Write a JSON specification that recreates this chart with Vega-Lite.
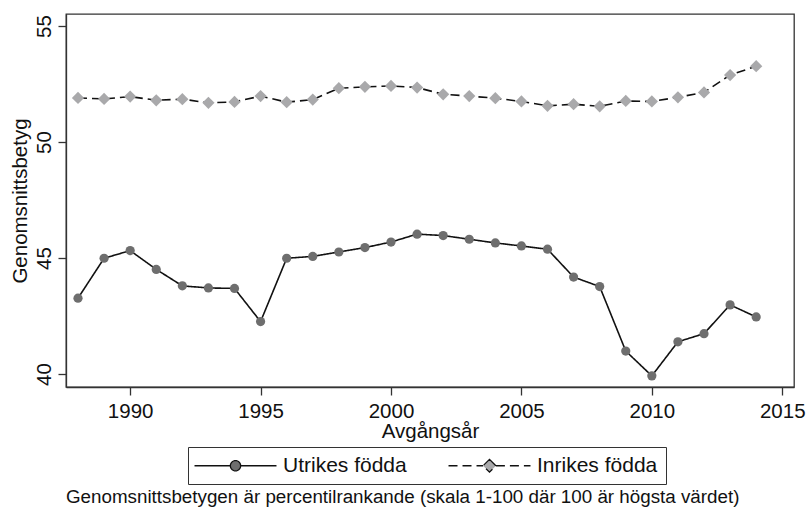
{
  "$schema": "https://vega.github.io/schema/vega-lite/v6.json",
  "autosize": {"type": "none"},
  "padding": {"left": 66, "top": 14, "right": 14, "bottom": 120},
  "width": 728,
  "height": 373,
  "background": "white",
  "config": {
    "font": "Liberation Sans",
    "view": {"stroke": "#333333", "strokeWidth": 1.3},
    "axis": {
      "grid": false,
      "domainColor": "#333333",
      "domainWidth": 1.3,
      "tickColor": "#333333",
      "tickWidth": 1.3,
      "tickSize": 8,
      "labelFont": "Liberation Sans",
      "labelFontSize": 20.5,
      "labelColor": "#111111",
      "titleFont": "Liberation Sans",
      "titleFontSize": 20.5,
      "titleFontWeight": "normal",
      "titleColor": "#111111"
    }
  },
  "title": {
    "text": "Genomsnittsbetygen är percentilrankande (skala 1-100 där 100 är högsta värdet)",
    "orient": "bottom",
    "anchor": "start",
    "frame": "group",
    "offset": 3,
    "font": "Liberation Sans",
    "fontSize": 18.8,
    "fontWeight": "normal",
    "color": "#111111"
  },
  "data": {
    "values": [
      {"year": 1988, "serie": "Utrikes födda", "value": 43.27},
      {"year": 1989, "serie": "Utrikes födda", "value": 44.99},
      {"year": 1990, "serie": "Utrikes födda", "value": 45.32},
      {"year": 1991, "serie": "Utrikes födda", "value": 44.51},
      {"year": 1992, "serie": "Utrikes födda", "value": 43.80},
      {"year": 1993, "serie": "Utrikes födda", "value": 43.71},
      {"year": 1994, "serie": "Utrikes födda", "value": 43.69},
      {"year": 1995, "serie": "Utrikes födda", "value": 42.26},
      {"year": 1996, "serie": "Utrikes födda", "value": 44.99},
      {"year": 1997, "serie": "Utrikes födda", "value": 45.07},
      {"year": 1998, "serie": "Utrikes födda", "value": 45.26},
      {"year": 1999, "serie": "Utrikes födda", "value": 45.45},
      {"year": 2000, "serie": "Utrikes födda", "value": 45.69},
      {"year": 2001, "serie": "Utrikes födda", "value": 46.03},
      {"year": 2002, "serie": "Utrikes födda", "value": 45.97},
      {"year": 2003, "serie": "Utrikes födda", "value": 45.81},
      {"year": 2004, "serie": "Utrikes födda", "value": 45.65},
      {"year": 2005, "serie": "Utrikes födda", "value": 45.52},
      {"year": 2006, "serie": "Utrikes födda", "value": 45.38},
      {"year": 2007, "serie": "Utrikes födda", "value": 44.18},
      {"year": 2008, "serie": "Utrikes födda", "value": 43.77},
      {"year": 2009, "serie": "Utrikes födda", "value": 40.99},
      {"year": 2010, "serie": "Utrikes födda", "value": 39.92},
      {"year": 2011, "serie": "Utrikes födda", "value": 41.39},
      {"year": 2012, "serie": "Utrikes födda", "value": 41.74},
      {"year": 2013, "serie": "Utrikes födda", "value": 42.98},
      {"year": 2014, "serie": "Utrikes födda", "value": 42.46},
      {"year": 1988, "serie": "Inrikes födda", "value": 51.90},
      {"year": 1989, "serie": "Inrikes födda", "value": 51.86},
      {"year": 1990, "serie": "Inrikes födda", "value": 51.96},
      {"year": 1991, "serie": "Inrikes födda", "value": 51.80},
      {"year": 1992, "serie": "Inrikes födda", "value": 51.85},
      {"year": 1993, "serie": "Inrikes födda", "value": 51.69},
      {"year": 1994, "serie": "Inrikes födda", "value": 51.73},
      {"year": 1995, "serie": "Inrikes födda", "value": 51.98},
      {"year": 1996, "serie": "Inrikes födda", "value": 51.72},
      {"year": 1997, "serie": "Inrikes födda", "value": 51.83},
      {"year": 1998, "serie": "Inrikes födda", "value": 52.32},
      {"year": 1999, "serie": "Inrikes födda", "value": 52.38},
      {"year": 2000, "serie": "Inrikes födda", "value": 52.42},
      {"year": 2001, "serie": "Inrikes födda", "value": 52.35},
      {"year": 2002, "serie": "Inrikes födda", "value": 52.06},
      {"year": 2003, "serie": "Inrikes födda", "value": 51.98},
      {"year": 2004, "serie": "Inrikes födda", "value": 51.89},
      {"year": 2005, "serie": "Inrikes födda", "value": 51.75},
      {"year": 2006, "serie": "Inrikes födda", "value": 51.56},
      {"year": 2007, "serie": "Inrikes födda", "value": 51.63},
      {"year": 2008, "serie": "Inrikes födda", "value": 51.54},
      {"year": 2009, "serie": "Inrikes födda", "value": 51.77},
      {"year": 2010, "serie": "Inrikes födda", "value": 51.75},
      {"year": 2011, "serie": "Inrikes födda", "value": 51.93},
      {"year": 2012, "serie": "Inrikes födda", "value": 52.14},
      {"year": 2013, "serie": "Inrikes födda", "value": 52.89},
      {"year": 2014, "serie": "Inrikes födda", "value": 53.27}
    ]
  },
  "encoding": {
    "x": {
      "field": "year",
      "type": "quantitative",
      "scale": {"domain": [1987.54, 2015.45], "nice": false, "zero": false},
      "axis": {
        "title": "Avgångsår",
        "values": [1990, 1995, 2000, 2005, 2010, 2015],
        "format": "d",
        "labelPadding": 6,
        "titlePadding": 0,
        "labelFlush": false
      }
    },
    "y": {
      "field": "value",
      "type": "quantitative",
      "scale": {"domain": [39.44, 55.52], "nice": false, "zero": false},
      "axis": {
        "title": "Genomsnittsbetyg",
        "values": [40, 45, 50, 55],
        "labelAngle": -90,
        "labelAlign": "center",
        "labelBaseline": "bottom",
        "labelPadding": 4,
        "titlePadding": 4,
        "labelFlush": false
      }
    }
  },
  "layer": [
    {
      "mark": {"type": "line", "color": "#111111", "strokeWidth": 1.6},
      "encoding": {
        "strokeDash": {
          "field": "serie",
          "type": "nominal",
          "scale": {"domain": ["Utrikes födda", "Inrikes födda"], "range": [[1, 0], [9, 5]]},
          "legend": {
            "title": null,
            "orient": "none",
            "direction": "horizontal",
            "legendX": 122,
            "legendY": 433,
            "padding": 8,
            "strokeColor": "#333333",
            "fillColor": "white",
            "labelFont": "Liberation Sans",
            "labelFontSize": 21,
            "labelColor": "#111111",
            "labelLimit": 300,
            "symbolSize": 105,
            "symbolOffset": 29,
            "labelOffset": 37,
            "columnPadding": 38,
            "symbolStrokeWidth": 1.3,
            "symbolStrokeColor": "#111111",
            "encode": {
              "symbols": {
                "update": {
                  "shape": {"signal": "datum.value === 'Utrikes födda' ? 'M-8,0L-1,0M1,0L8,0M1,0A1,1,0,1,1,-1,0A1,1,0,1,1,1,0Z' : 'M-8,0L-1.25,0M1.25,0L8,0M0,-1.25L1.25,0L0,1.25L-1.25,0Z'"},
                  "fill": {"signal": "datum.value === 'Utrikes födda' ? '#6e6e6e' : '#a9a9ab'"},
                  "stroke": {"value": "#111111"},
                  "strokeWidth": {"value": 1.3},
                  "opacity": {"value": 1}
                }
              }
            }
          }
        }
      }
    },
    {
      "transform": [{"filter": "datum.serie === 'Utrikes födda'"}],
      "mark": {"type": "point", "shape": "circle", "filled": true, "color": "#6e6e6e", "size": 85, "opacity": 1}
    },
    {
      "transform": [{"filter": "datum.serie === 'Inrikes födda'"}],
      "mark": {"type": "point", "shape": "diamond", "filled": true, "color": "#a9a9ab", "size": 150, "opacity": 1}
    }
  ]
}
